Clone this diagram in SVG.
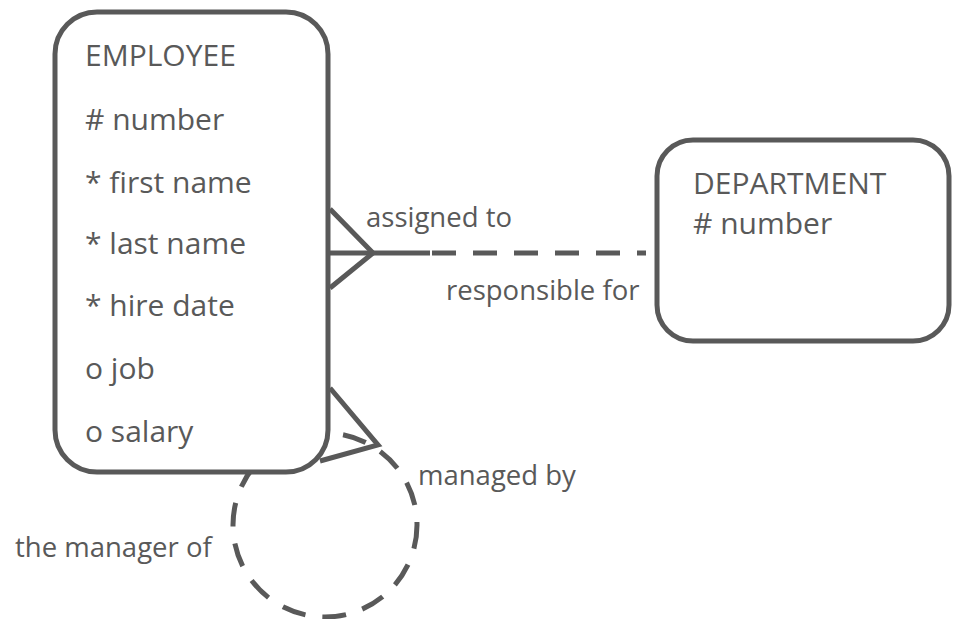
<svg xmlns="http://www.w3.org/2000/svg" width="953" height="619" viewBox="0 0 953 619">
<style>
.box{fill:#fff;stroke:#595959;stroke-width:5}
.ln{fill:none;stroke:#595959;stroke-width:5}
.dash{fill:none;stroke:#595959;stroke-width:5;stroke-dasharray:24 17}
.t{font-family:"Open Sans","Noto Sans",sans-serif;font-size:30px;fill:#595959}
.l{font-family:"Open Sans","Noto Sans",sans-serif;font-size:27.5px;fill:#595959}
</style>
<rect width="953" height="619" fill="#fff"/>
<g id="connectors">
<circle class="dash" cx="325" cy="525" r="92"/>
<line class="ln" x1="330" y1="253" x2="430" y2="253"/>
<line class="dash" x1="432" y1="253" x2="646" y2="253"/>
</g>
<g id="employee">
<rect class="box" x="55" y="12" width="273" height="460" rx="42"/>
<text class="t" x="85" y="66">EMPLOYEE</text>
<text class="t" x="85" y="130"># number</text>
<text class="t" x="85" y="193">* first name</text>
<text class="t" x="85" y="254">* last name</text>
<text class="t" x="85" y="316">* hire date</text>
<text class="t" x="85" y="379">o job</text>
<text class="t" x="85" y="442">o salary</text>
</g>
<g id="department">
<rect class="box" x="657" y="140" width="292" height="201" rx="36"/>
<text class="t" x="693" y="194">DEPARTMENT</text>
<text class="t" x="693" y="234"># number</text>
</g>
<g id="rel-assigned">
<polyline class="ln" points="330,209 373,253 330,288"/>
<text class="l" x="366" y="227">assigned to</text>
<text class="l" x="446" y="300">responsible for</text>
</g>
<g id="rel-manager">
<polyline class="ln" points="330,388 378,445 320,461"/>
<text class="l" x="418" y="485">managed by</text>
<text class="l" x="15" y="557">the manager of</text>
</g>
</svg>
